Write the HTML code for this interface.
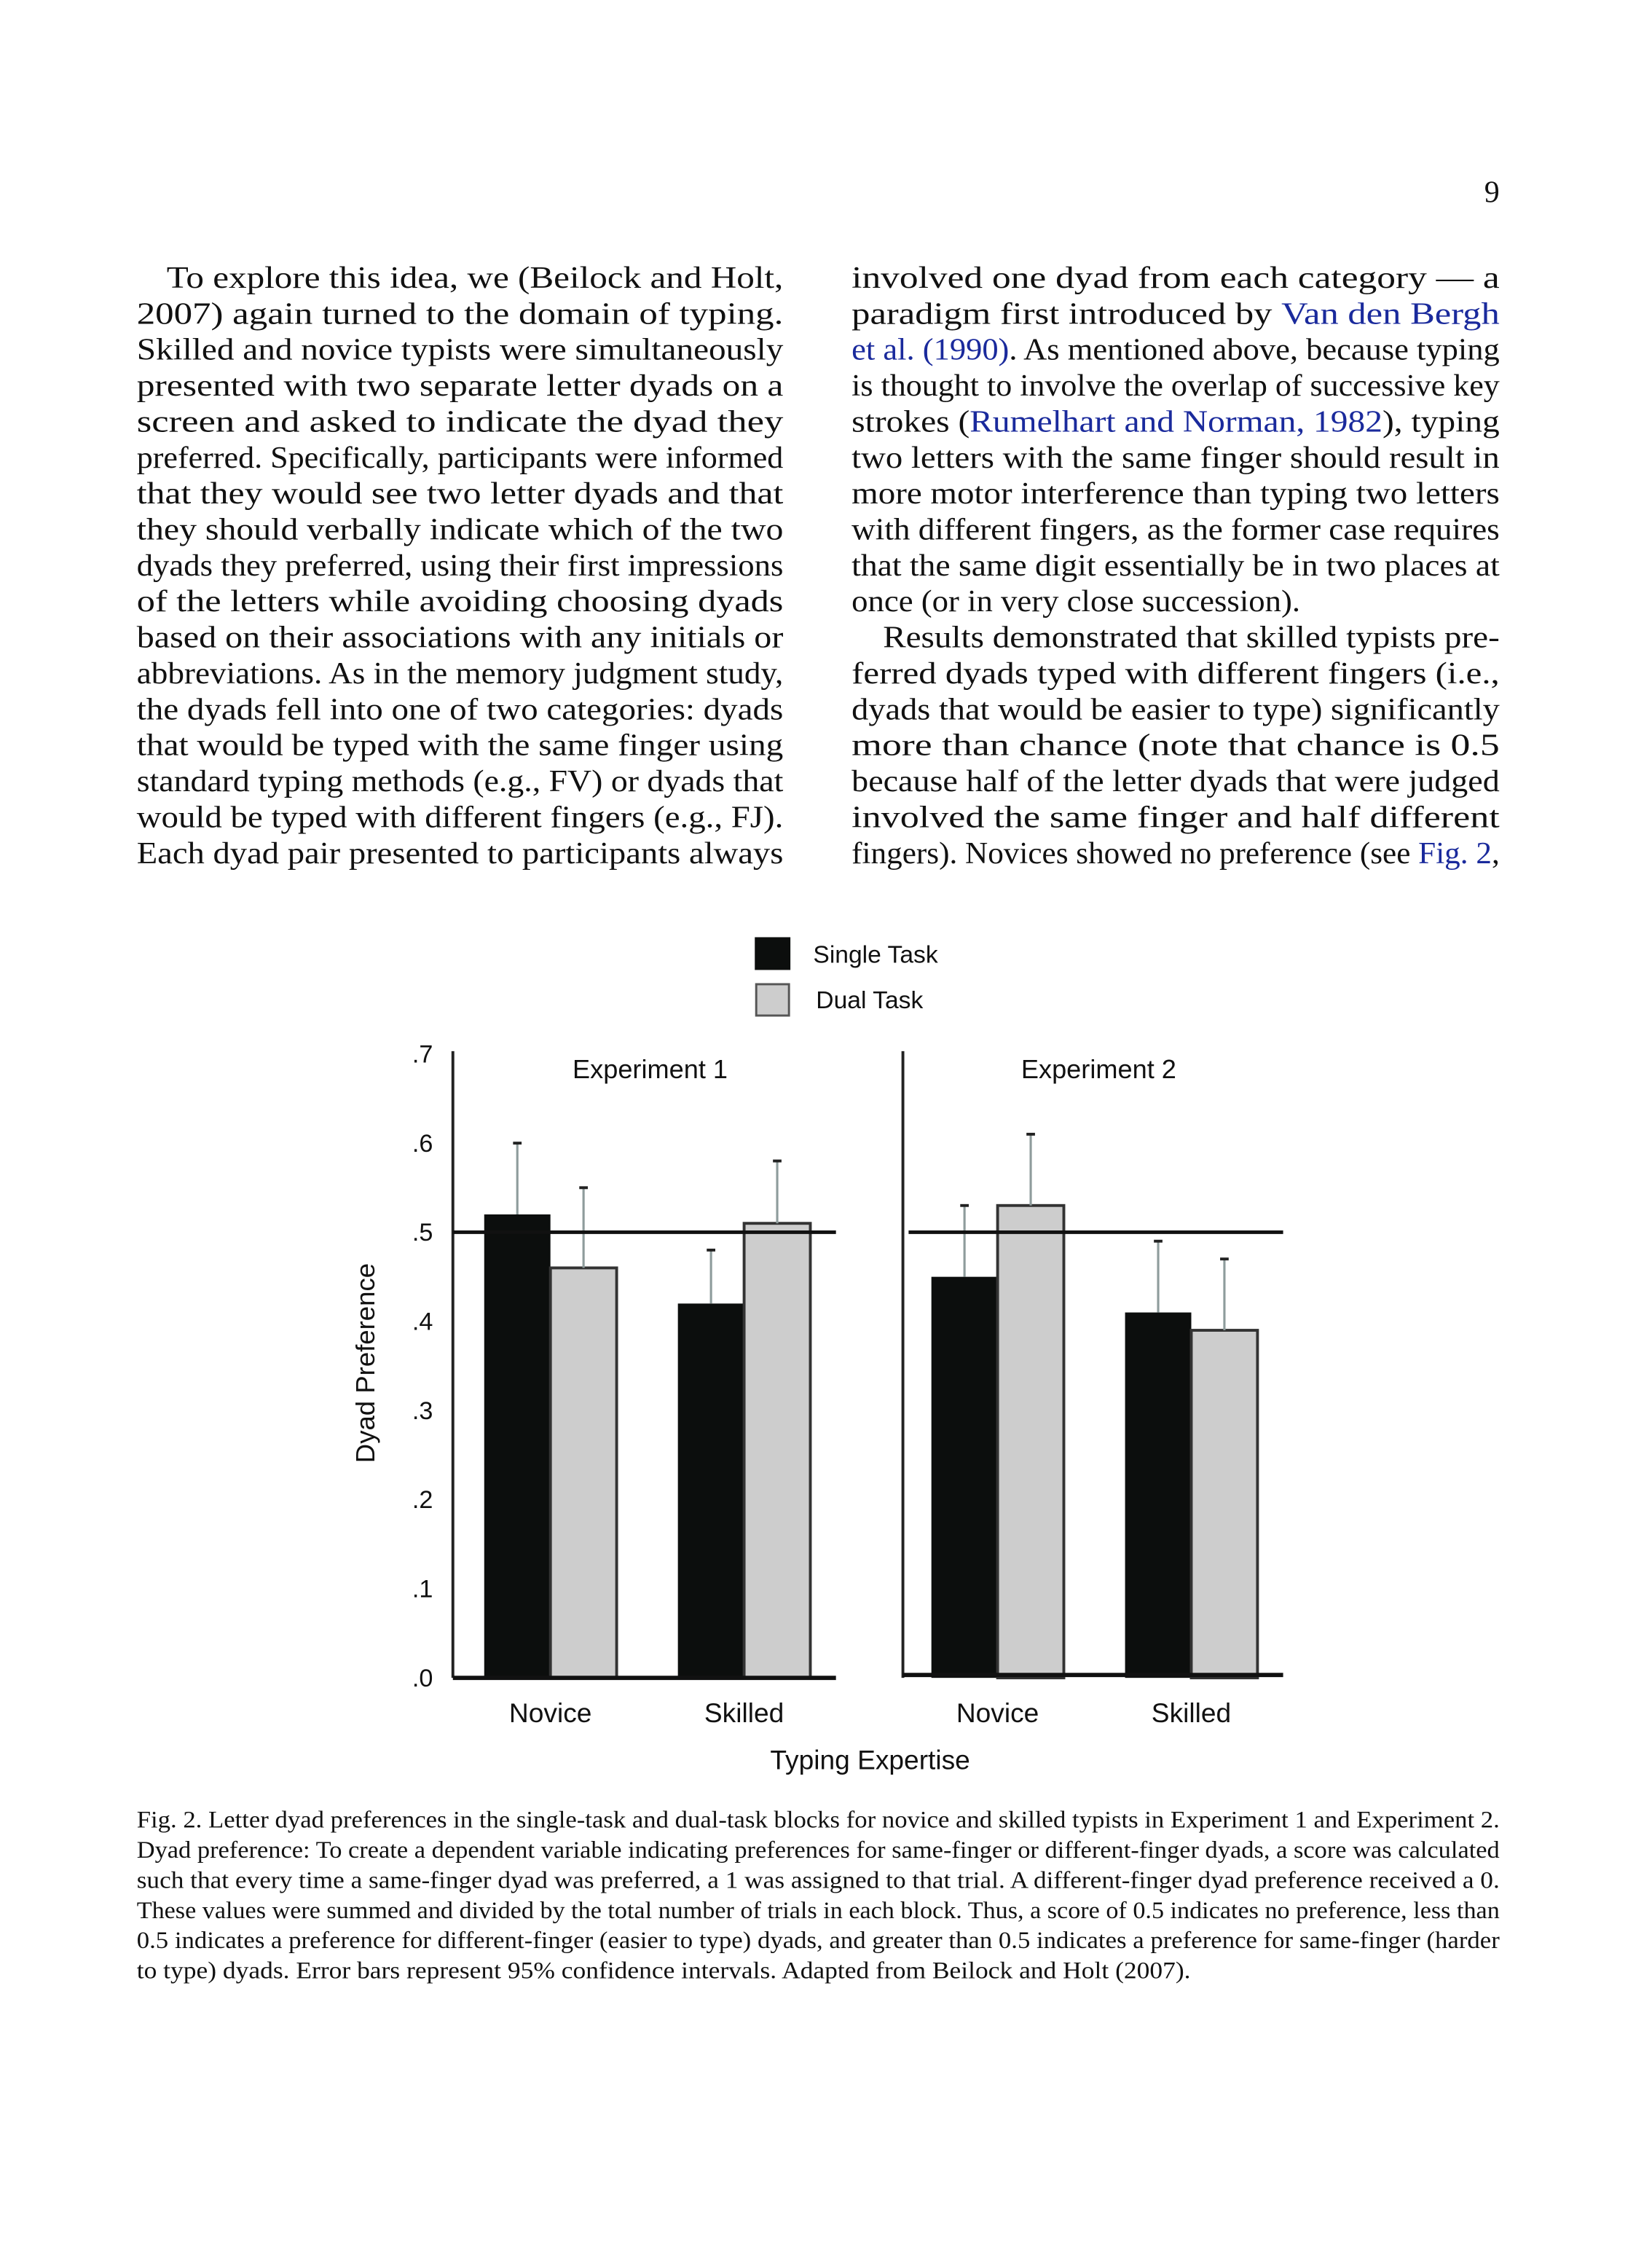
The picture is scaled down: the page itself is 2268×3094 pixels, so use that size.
<!DOCTYPE html>
<html><head><meta charset="utf-8"><style>
html,body{margin:0;padding:0;background:#fff;}
svg{display:block;}
.t{font-family:"Liberation Serif",serif;font-size:21.5px;fill:#111;}
.c{font-family:"Liberation Serif",serif;font-size:16.5px;fill:#111;}
.a{fill:#1a2a9c;}
.s{font-family:"Liberation Sans",sans-serif;fill:#111;}
</style></head><body>
<svg id="page" width="2268" height="3094" viewBox="0 0 1160 1582.5" xmlns="http://www.w3.org/2000/svg">
<rect width="1160" height="1582.5" fill="#fff"/>
<text class="t" x="1053" y="142" text-anchor="end">9</text>
<g id="left-col"></g>
<g id="right-col"></g>
<g id="chart"></g>
<g id="caption"></g>
</svg>
<script>
// ---- chart data ----
const panels = ["Experiment 1", "Experiment 2"];
const categories = ["Novice", "Skilled"];
const seriesNames = ["Single Task", "Dual Task"];
const singleTask = [[0.52, 0.42], [0.45, 0.41]];
const dualTask = [[0.46, 0.51], [0.53, 0.39]];
const singleErr = [[0.60, 0.48], [0.53, 0.49]];
const dualErr = [[0.55, 0.58], [0.61, 0.47]];
const yTicks = [0, 0.1, 0.2, 0.3, 0.4, 0.5, 0.6, 0.7];
const yTickLabels = [".0", ".1", ".2", ".3", ".4", ".5", ".6", ".7"];
const chanceLevel = 0.5;

const NS = "http://www.w3.org/2000/svg";
function mk(tag, attrs, parent, txt) {
  const e = document.createElementNS(NS, tag);
  for (const k in attrs) e.setAttribute(k, attrs[k]);
  if (txt !== undefined) e.textContent = txt;
  parent.appendChild(e);
  return e;
}
const y0 = 1178, yTop = 740;
function yS(v) { return y0 - (v / 0.7) * (y0 - yTop); }
const panelX = [318, 634], panelEnd = [587, 901];
const groupStart = [[340, 476], [654, 790]];
const barW = 46.5;
const chart = document.getElementById("chart");

// legend
let lg = mk("rect", {x: 530, y: 658, width: 25, height: 23, fill: "#0c0e0d"}, chart);


lg = mk("text", {x: 571, y: 676, "font-size": 17.2, class: "s"}, chart, seriesNames[0]);


lg = mk("rect", {x: 531, y: 691, width: 23, height: 22, fill: "#cdcdcd", stroke: "#555", "stroke-width": 1.5}, chart);


lg = mk("text", {x: 573, y: 708, "font-size": 17.2, class: "s"}, chart, seriesNames[1]);



// y ticks
yTicks.forEach((v, i) => {
  const t = mk("text", {x: 304, y: yS(v) + 6, "font-size": 17.5, "text-anchor": "end", class: "s"}, chart, yTickLabels[i]);
  
  
});
let yt = mk("text", {x: 0, y: 0, "font-size": 18.7, "text-anchor": "middle", class: "s", transform: "translate(263,957) rotate(-90)"}, chart, "Dyad Preference");


let xt = mk("text", {x: 611, y: 1242, "font-size": 19, "text-anchor": "middle", class: "s"}, chart, "Typing Expertise");



panels.forEach((p, pi) => {
  const px = panelX[pi];
  let ax = mk("line", {x1: px, y1: yTop - 2, x2: px, y2: y0, stroke: "#222", "stroke-width": 2}, chart);
  
  
  let pt = mk("text", {x: (px + panelEnd[pi]) / 2 + 4, y: 757, "font-size": 18.5, "text-anchor": "middle", class: "s"}, chart, p);
  
  
  categories.forEach((c, ci) => {
    const gx = groupStart[pi][ci];
    const vals = [singleTask[pi][ci], dualTask[pi][ci]];
    const errs = [singleErr[pi][ci], dualErr[pi][ci]];
    vals.forEach((v, si) => {
      const bx = gx + si * barW;
      const b = mk("rect", {x: bx, y: yS(v), width: barW, height: y0 - yS(v),
        fill: si === 0 ? "#0c0e0d" : "#cdcdcd", stroke: si === 0 ? "#0c0e0d" : "#333", "stroke-width": si === 0 ? 0 : 2}, chart);
      
      
      const cx = bx + barW / 2;
      const e = mk("line", {x1: cx, y1: yS(errs[si]), x2: cx, y2: yS(v), stroke: "#8e9c9c", "stroke-width": 1.6}, chart);
      
      
      const cap = mk("line", {x1: cx - 3, y1: yS(errs[si]), x2: cx + 3, y2: yS(errs[si]), stroke: "#222", "stroke-width": 2}, chart);
      
      
    });
    const cl = mk("text", {x: gx + barW, y: 1209, "font-size": 19, "text-anchor": "middle", class: "s"}, chart, c);
    
    
  });
  let ref = mk("line", {x1: px + (pi ? 4 : 0), y1: yS(chanceLevel), x2: panelEnd[pi], y2: yS(chanceLevel), stroke: "#111", "stroke-width": 2.5}, chart);
  
  
  let base = mk("line", {x1: px, y1: y0 - pi * 2, x2: panelEnd[pi], y2: y0 - pi * 2, stroke: "#111", "stroke-width": 3}, chart);
  
  
});

// ---- body text ---- [text, indent, endX or 0 for column end]
const leftLines = [
 ["To explore this idea, we (Beilock and Holt,",1,0],
 ["2007) again turned to the domain of typing.",0,0],
 ["Skilled and novice typists were simultaneously",0,0],
 ["presented with two separate letter dyads on a",0,0],
 ["screen and asked to indicate the dyad they",0,0],
 ["preferred. Specifically, participants were informed",0,0],
 ["that they would see two letter dyads and that",0,0],
 ["they should verbally indicate which of the two",0,0],
 ["dyads they preferred, using their first impressions",0,0],
 ["of the letters while avoiding choosing dyads",0,0],
 ["based on their associations with any initials or",0,0],
 ["abbreviations. As in the memory judgment study,",0,0],
 ["the dyads fell into one of two categories: dyads",0,0],
 ["that would be typed with the same finger using",0,0],
 ["standard typing methods (e.g., FV) or dyads that",0,0],
 ["would be typed with different fingers (e.g., FJ).",0,0],
 ["Each dyad pair presented to participants always",0,0]];
const rightLines = [
 ["involved one dyad from each category \u2014 a",0,0],
 ["paradigm first introduced by |Van den Bergh",0,0],
 ["|et al. (1990)|. As mentioned above, because typing",0,0],
 ["is thought to involve the overlap of successive key",0,0],
 ["strokes (|Rumelhart and Norman, 1982|), typing",0,0],
 ["two letters with the same finger should result in",0,0],
 ["more motor interference than typing two letters",0,0],
 ["with different fingers, as the former case requires",0,0],
 ["that the same digit essentially be in two places at",0,0],
 ["once (or in very close succession).",0,913],
 ["Results demonstrated that skilled typists pre-",1,0],
 ["ferred dyads typed with different fingers (i.e.,",0,0],
 ["dyads that would be easier to type) significantly",0,0],
 ["more than chance (note that chance is 0.5",0,0],
 ["because half of the letter dyads that were judged",0,0],
 ["involved the same finger and half different",0,0],
 ["fingers). Novices showed no preference (see |Fig. 2|,",0,0]];
function writeLines(g, lines, x0, x1, yStart, lh, cls, indent) {
  lines.forEach((ln, i) => {
    const x = x0 + (ln[1] ? indent : 0);
    const end = ln[2] || x1;
    const attrs = {x: x, y: yStart + i * lh, class: cls, textLength: end - x, lengthAdjust: "spacingAndGlyphs"};
    const t = mk("text", attrs, g);
    
    
    ln[0].split("|").forEach((part, k) => {
      if (!part) return;
      const s = mk("tspan", k % 2 ? {class: "a"} : {}, t, part);
      if (k % 2) {
        
        
      }
    });
  });
}
writeLines(document.getElementById("left-col"), leftLines, 96, 550, 202, 25.25, "t", 21);
writeLines(document.getElementById("right-col"), rightLines, 598, 1053, 202, 25.25, "t", 22);
const capLines = [
 ["Fig. 2.  Letter dyad preferences in the single-task and dual-task blocks for novice and skilled typists in Experiment 1 and Experiment 2.",0,0],
 ["Dyad preference: To create a dependent variable indicating preferences for same-finger or different-finger dyads, a score was calculated",0,0],
 ["such that every time a same-finger dyad was preferred, a 1 was assigned to that trial. A different-finger dyad preference received a 0.",0,0],
 ["These values were summed and divided by the total number of trials in each block. Thus, a score of 0.5 indicates no preference, less than",0,0],
 ["0.5 indicates a preference for different-finger (easier to type) dyads, and greater than 0.5 indicates a preference for same-finger (harder",0,0],
 ["to type) dyads. Error bars represent 95% confidence intervals. Adapted from Beilock and Holt (2007).",0,836]];
writeLines(document.getElementById("caption"), capLines, 96, 1053, 1283, 21.2, "c", 0);
</script>
</body></html>
